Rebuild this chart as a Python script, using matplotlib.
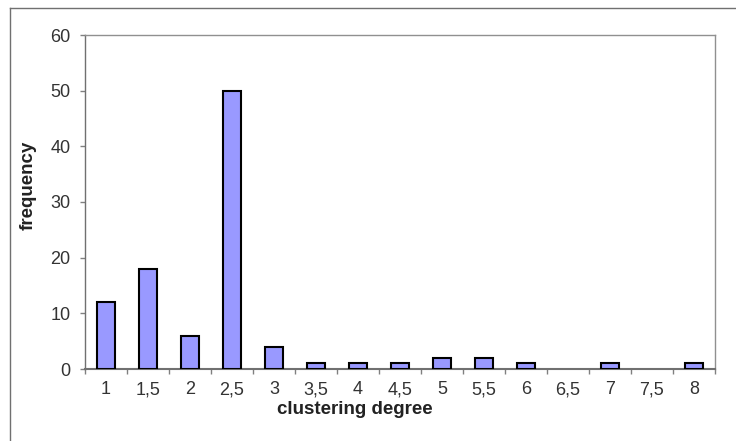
import numpy as np
import matplotlib.pyplot as plt
from matplotlib.lines import Line2D

plt.rcParams['font.family'] = ['Liberation Sans', 'DejaVu Sans']

# clustering degree categories and their frequencies
degree_labels = ['1', '1,5', '2', '2,5', '3', '3,5', '4', '4,5', '5', '5,5',
                 '6', '6,5', '7', '7,5', '8']
frequency = [12, 18, 6, 50, 4, 1, 1, 1, 2, 2, 1, 0, 1, 0, 1]

W, H = 736, 441
fig = plt.figure(figsize=(W / 100, H / 100), dpi=100)
ax = fig.add_axes([85 / W, 1 - 369 / H, 630 / W, 334 / H])

x = np.arange(len(frequency))
# empty categories get no outline (Excel draws nothing there)
edges = ['black' if v > 0 else 'none' for v in frequency]
ax.bar(x, frequency, width=0.42, color='#9999FF', edgecolor=edges, linewidth=1.5, zorder=3)

ax.set_xlim(-0.5, len(frequency) - 0.5)
ax.set_ylim(0, 60)
ax.set_yticks(range(0, 61, 10))

# Excel style: category labels centred, tick marks between categories
ax.set_xticks(x)
ax.set_xticklabels(degree_labels)
ax.set_xticks(np.arange(-0.5, len(frequency), 1), minor=True)
ax.tick_params(axis='x', which='major', length=0, pad=9, labelsize=13, colors='#333333')
ax.tick_params(axis='x', which='minor', length=3.6, width=1, color='#808080', direction='out')
ax.tick_params(axis='y', length=3.6, width=1, color='#808080', pad=7, labelsize=13, labelcolor='#333333')

for s in ax.spines.values():
    s.set_color('#909090')
    s.set_linewidth(1)
ax.spines['bottom'].set_color('#707070')
ax.spines['bottom'].set_linewidth(1.5)
ax.spines['left'].set_color('#707070')

fig.text(355 / W, 1 - 410 / H, 'clustering degree', ha='center', va='center',
         fontsize=13.5, fontweight='bold', color='#222222')
fig.text(28 / W, 1 - 185 / H, 'frequency', ha='center', va='center', rotation=90,
         fontsize=13.5, fontweight='bold', color='#222222')

# outer chart border (top and left visible)
fig.add_artist(Line2D([10 / W, 1], [1 - 7.5 / H, 1 - 7.5 / H], transform=fig.transFigure,
                      color='#707070', linewidth=1))
fig.add_artist(Line2D([10 / W, 10 / W], [0, 1 - 7.5 / H], transform=fig.transFigure,
                      color='#707070', linewidth=1))

fig.savefig('out.png', dpi=100)
